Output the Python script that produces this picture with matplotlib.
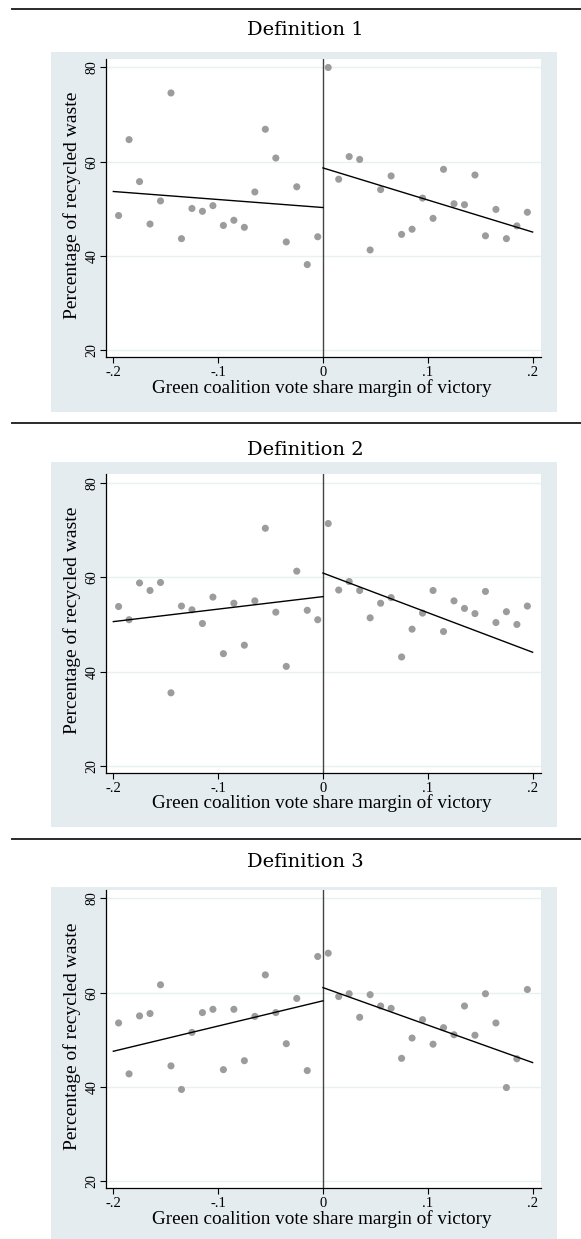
import matplotlib
matplotlib.use("Agg")
import matplotlib.pyplot as plt
from matplotlib.patches import Rectangle
from matplotlib.lines import Line2D

# bin centres of the running variable
x_left = [-0.195, -0.185, -0.175, -0.165, -0.155, -0.145, -0.135, -0.125, -0.115, -0.105,
          -0.095, -0.085, -0.075, -0.065, -0.055, -0.045, -0.035, -0.025, -0.015, -0.005]
x_right = [0.005, 0.015, 0.025, 0.035, 0.045, 0.055, 0.065, 0.075, 0.085, 0.095,
           0.105, 0.115, 0.125, 0.135, 0.145, 0.155, 0.165, 0.175, 0.185, 0.195]

titles = ["Definition 1", "Definition 2", "Definition 3"]

# bin means, percentage of recycled waste
d1_left = [48.6, 64.7, 55.8, 46.8, 51.7, 74.6, 43.7, 50.1, 49.5, 50.7,
           46.5, 47.6, 46.1, 53.6, 66.9, 60.8, 43.0, 54.7, 38.2, 44.1]
d1_right = [80.0, 56.3, 61.1, 60.5, 41.3, 54.1, 57.0, 44.6, 45.7, 52.3,
            48.0, 58.4, 51.1, 50.9, 57.2, 44.3, 49.9, 43.7, 46.4, 49.3]
d2_left = [53.8, 51.0, 58.8, 57.2, 58.9, 35.5, 53.9, 53.1, 50.2, 55.8,
           43.8, 54.5, 45.6, 55.0, 70.4, 52.6, 41.1, 61.3, 53.0, 51.0]
d2_right = [71.4, 57.3, 59.1, 57.2, 51.4, 54.5, 55.7, 43.1, 49.0, 52.4,
            57.2, 48.5, 55.0, 53.4, 52.3, 57.0, 50.4, 52.7, 50.0, 53.9]
d3_left = [53.6, 42.8, 55.1, 55.6, 61.7, 44.5, 39.5, 51.6, 55.8, 56.5,
           43.7, 56.5, 45.6, 55.0, 63.8, 55.8, 49.2, 58.8, 43.5, 67.7]
d3_right = [68.4, 59.2, 59.8, 54.8, 59.6, 57.2, 56.7, 46.1, 50.4, 54.3,
            49.1, 52.6, 51.1, 57.2, 51.0, 59.8, 53.6, 39.9, 46.0, 60.7]

# linear fits: value at (-.2, 0) and (0, .2)
fit_x_left = [-0.2, 0.0]
fit_x_right = [0.0, 0.2]
d1_fit_left = [53.7, 50.3]
d1_fit_right = [58.7, 45.1]
d2_fit_left = [50.6, 55.9]
d2_fit_right = [60.9, 44.1]
d3_fit_left = [47.6, 58.3]
d3_fit_right = [61.1, 45.2]

panels = [
    (d1_left, d1_right, d1_fit_left, d1_fit_right),
    (d2_left, d2_right, d2_fit_left, d2_fit_right),
    (d3_left, d3_right, d3_fit_left, d3_fit_right),
]

W, H = 581, 1239
bg = "#e5ecef"
grid_col = "#e8f0f2"
serif = ["Liberation Serif", "DejaVu Serif"]

fig = plt.figure(figsize=(W / 100, H / 100), dpi=100)
fig.patch.set_facecolor("white")

# pixel layout of each panel
sep_y = [9, 423, 839]
title_y = [30, 450, 862]
gray_box = [(52, 412), (462, 827), (887, 1239)]
ax_top = [59, 474.5, 890]
ax_h = 298
ax_left, ax_right = 106, 541


def fy(py):
    return 1 - py / H


for i, (yl, yr, fl, fr) in enumerate(panels):
    fig.add_artist(Line2D([12 / W, 1.0], [fy(sep_y[i])] * 2, transform=fig.transFigure,
                          color="#2a2a2a", lw=1.4))
    g0, g1 = gray_box[i]
    fig.add_artist(Rectangle((51 / W, fy(g1)), (557 - 51) / W, (g1 - g0) / H,
                             transform=fig.transFigure, facecolor=bg, edgecolor="none",
                             zorder=0))
    fig.text(305 / W, fy(title_y[i]), titles[i], ha="center", va="center",
             fontsize=14, family=["DejaVu Serif"])

    ax = fig.add_axes([ax_left / W, fy(ax_top[i] + ax_h), (ax_right - ax_left) / W, ax_h / H])
    ax.set_facecolor("white")
    ax.set_xlim(-0.207, 0.208)
    ax.set_ylim(18.6, 81.8)
    for yv in [20, 40, 60, 80]:
        ax.axhline(yv, color=grid_col, lw=1.0, zorder=0)
    ax.axvline(0, color="#444444", lw=1.0, zorder=1)

    ax.scatter(x_left, yl, s=26, color="#9c9c9c", edgecolors="none", zorder=2)
    ax.scatter(x_right, yr, s=26, color="#9c9c9c", edgecolors="none", zorder=2)
    ax.plot(fit_x_left, fl, color="black", lw=1.0, zorder=3)
    ax.plot(fit_x_right, fr, color="black", lw=1.0, zorder=3)

    for s in ["top", "right"]:
        ax.spines[s].set_visible(False)
    for s in ["left", "bottom"]:
        ax.spines[s].set_color("black")
        ax.spines[s].set_linewidth(0.9)

    ax.set_xticks([-0.2, -0.1, 0, 0.1, 0.2])
    ax.set_xticklabels(["-.2", "-.1", "0", ".1", ".2"], family=serif, fontsize=10.5)
    ax.set_yticks([20, 40, 60, 80])
    ax.set_yticklabels(["20", "40", "60", "80"], family=serif, fontsize=10,
                       rotation=90, va="center")
    ax.tick_params(axis="x", direction="out", length=4, width=0.8, color="black", pad=2.5)
    ax.tick_params(axis="y", direction="out", length=4, width=0.8, color="black", pad=1.5)

    ax.set_xlabel("Green coalition vote share margin of victory", family=serif,
                  fontsize=13.8, va="center")
    ax.xaxis.set_label_coords(0.497, -0.104)
    ax.set_ylabel("Percentage of recycled waste", family=serif, fontsize=14, va="center")
    ax.yaxis.set_label_coords(-0.077, 0.51)

fig.savefig("out.png", dpi=100, facecolor="white")
